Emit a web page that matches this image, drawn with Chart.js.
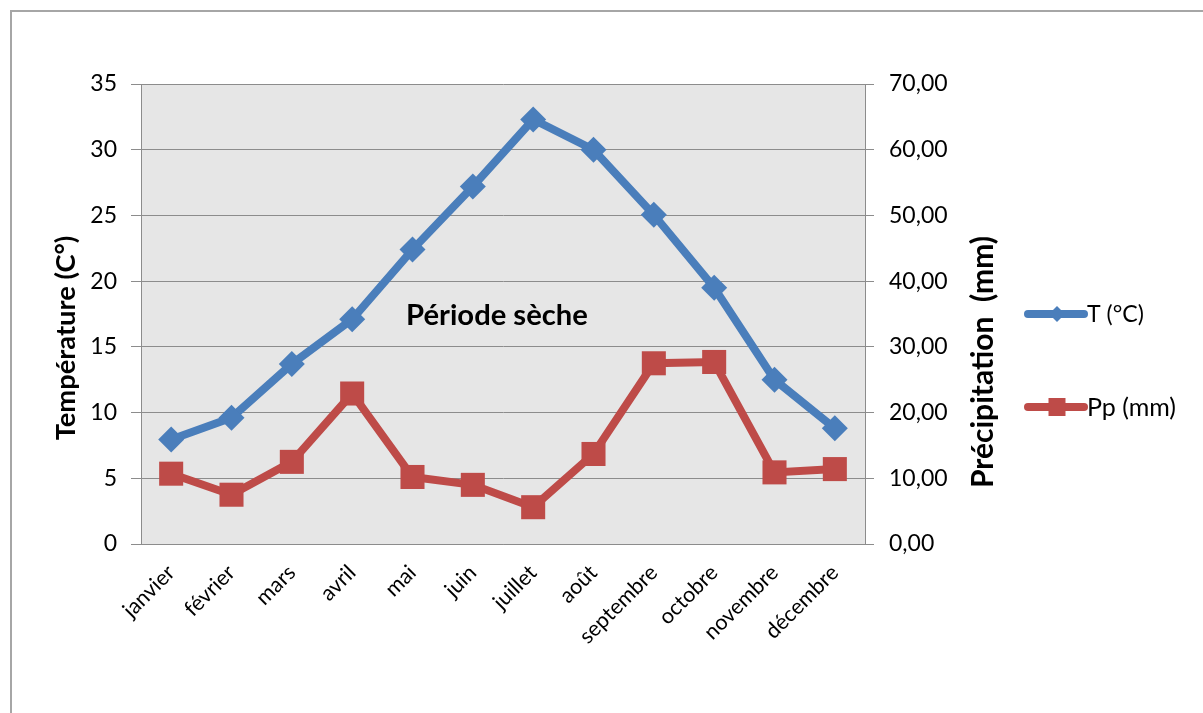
<!DOCTYPE html>
<html><head><meta charset="utf-8">
<script src="https://cdn.jsdelivr.net/npm/chart.js@4/dist/chart.umd.min.js"></script>
<style>
html,body{margin:0;padding:0;background:#fff;overflow:hidden;width:1203px;height:713px}
#frame{position:absolute;left:10px;top:10px;width:1300px;height:800px;border:2px solid #a6a6a6;box-sizing:border-box}
#c{position:absolute;left:0;top:0;width:1203px;height:713px}
</style></head><body>
<div id="frame"></div>
<canvas id="c" width="1203" height="713"></canvas>
<script>
const months = ['janvier','février','mars','avril','mai','juin','juillet','août','septembre','octobre','novembre','décembre'];
const temperature = [7.95, 9.6, 13.7, 17.1, 22.4, 27.2, 32.3, 30.0, 25.05, 19.5, 12.5, 8.8];
const precipitation = [10.7, 7.5, 12.5, 22.9, 10.2, 9.0, 5.6, 13.7, 27.5, 27.7, 10.9, 11.4];
const tempTicks = [0, 5, 10, 15, 20, 25, 30, 35];
const precipTicks = [0, 10, 20, 30, 40, 50, 60, 70];
const seriesNames = ['T (°C)', 'Pp (mm)'];
const leftTitle = 'Température (C°)';
const rightTitle = 'Précipitation  (mm)';
const annotation = 'Période sèche';

const BLUE = '#4A7EBB', RED = '#BE4B48', GRID = '#8C8C8C';
const FONT = 'Lato';

function fitFont(ctx, text, weight, target) {
  ctx.font = weight + ' 100px ' + FONT;
  const w = ctx.measureText(text).width;
  return weight + ' ' + (100 * target / w).toFixed(1) + 'px ' + FONT;
}

const overlay = {
  id: 'overlay',
  beforeDraw(chart) {
    const a = chart.chartArea, ctx = chart.ctx;
    ctx.save();
    ctx.fillStyle = '#E6E6E6';
    ctx.fillRect(a.left, a.top, a.right - a.left, a.bottom - a.top);
    ctx.restore();
  },
  afterDraw(chart) {
    const ctx = chart.ctx;
    ctx.save();
    ctx.fillStyle = '#000';
    ctx.textAlign = 'center';
    ctx.textBaseline = 'middle';
    ctx.font = fitFont(ctx, leftTitle, 'bold', 205);
    ctx.save(); ctx.translate(66, 338); ctx.rotate(-Math.PI / 2); ctx.fillText(leftTitle, 0, 0); ctx.restore();
    ctx.font = fitFont(ctx, rightTitle, 'bold', 252);
    ctx.save(); ctx.translate(983, 362); ctx.rotate(-Math.PI / 2); ctx.fillText(rightTitle, 0, 0); ctx.restore();
    ctx.font = fitFont(ctx, annotation, 'bold', 182);
    ctx.fillText(annotation, 497, 316);

    // legend
    const ys = [314, 407];
    const cols = [BLUE, RED];
    ctx.textAlign = 'left';
    for (let i = 0; i < 2; i++) {
      ctx.strokeStyle = cols[i]; ctx.lineWidth = 8; ctx.lineCap = 'round';
      ctx.beginPath(); ctx.moveTo(1028, ys[i]); ctx.lineTo(1084, ys[i]); ctx.stroke();
      ctx.fillStyle = cols[i];
      ctx.beginPath();
      if (i === 0) {
        ctx.moveTo(1057 - 8, ys[i]); ctx.lineTo(1057, ys[i] - 8); ctx.lineTo(1057 + 8, ys[i]); ctx.lineTo(1057, ys[i] + 8);
      } else {
        ctx.rect(1057 - 8.5, ys[i] - 9, 17, 18);
      }
      ctx.closePath(); ctx.fill();
      ctx.fillStyle = '#000';
      ctx.font = fitFont(ctx, seriesNames[i], 'normal', i === 0 ? 57 : 89);
      ctx.fillText(seriesNames[i], 1087, ys[i] + 1);
    }
    ctx.restore();
  }
};

new Chart(document.getElementById('c'), {
  type: 'line',
  data: {
    labels: months,
    datasets: [
      { label: seriesNames[0], data: temperature, yAxisID: 'y', borderColor: BLUE, backgroundColor: BLUE,
        borderWidth: 8, pointStyle: 'rectRot', pointRadius: 13, pointBorderWidth: 0, tension: 0 },
      { label: seriesNames[1], data: precipitation, yAxisID: 'y1', borderColor: RED, backgroundColor: RED,
        borderWidth: 8, pointStyle: 'rect', pointRadius: 17, pointBorderWidth: 0, tension: 0 }
    ]
  },
  options: {
    responsive: false,
    animation: false,
    devicePixelRatio: 1,
    layout: { padding: { top: 84, left: 0, right: 0, bottom: 0 } },
    plugins: { legend: { display: false }, tooltip: { enabled: false } },
    scales: {
      x: {
        type: 'category',
        offset: true,
        grid: { display: false },
        border: { display: true, color: GRID, width: 1 },
        ticks: { color: '#000', font: { family: FONT, size: 21.5 }, minRotation: 45, maxRotation: 45, padding: 8, autoSkip: false },
        afterFit(s) { s.height = 713 - 544; }
      },
      y: {
        position: 'left', min: 0, max: 35,
        afterBuildTicks(s) { s.ticks = tempTicks.map(v => ({ value: v })); },
        grid: { color: GRID, tickLength: 10, drawTicks: true },
        border: { display: true, color: GRID, width: 1 },
        ticks: { color: '#000', font: { family: FONT, size: 23 }, padding: 14 },
        afterFit(s) { s.width = 141; }
      },
      y1: {
        position: 'right', min: 0, max: 70,
        afterBuildTicks(s) { s.ticks = precipTicks.map(v => ({ value: v })); },
        grid: { drawOnChartArea: false, color: GRID, tickLength: 9 },
        border: { display: true, color: GRID, width: 1 },
        ticks: { color: '#000', font: { family: FONT, size: 23 }, padding: 15,
          callback: v => v.toFixed(2).replace('.', ',') },
        afterFit(s) { s.width = 1203 - 865; }
      }
    }
  },
  plugins: [overlay]
});
</script>
</body></html>
